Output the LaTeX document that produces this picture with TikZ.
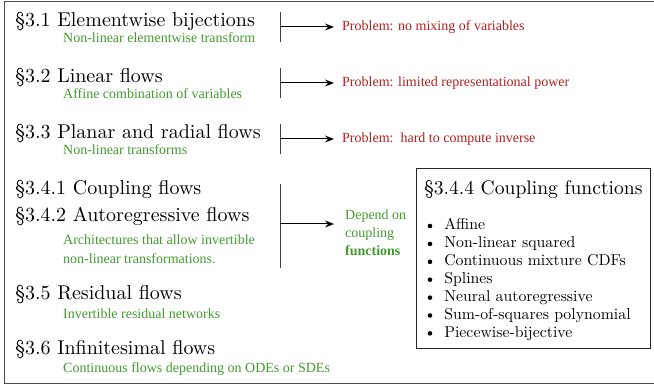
\documentclass[tikz,border=0pt]{standalone}
\usepackage{fontspec}
\usetikzlibrary{arrows.meta}
\newfontfamily\tnr{Liberation Serif}
\definecolor{grn}{RGB}{65,155,45}
\definecolor{rd}{RGB}{180,30,30}
\tikzset{
  x=1pt,y=-1pt,
  head/.style={anchor=base west,inner sep=0pt,font=\fontsize{10}{12}\selectfont,scale=2.0},
  sub/.style={anchor=base west,inner sep=0pt,font=\tnr\fontsize{14}{16}\selectfont,text=grn},
  prob/.style={anchor=base west,inner sep=0pt,font=\tnr\fontsize{14}{16}\selectfont,text=rd},
  bar/.style={line width=1pt,draw=black!75},
  arr/.style={line width=1pt,-{Stealth[length=9pt,width=7pt,inset=3pt]}},
  item/.style={anchor=base west,inner sep=0pt,font=\fontsize{10}{12}\selectfont,scale=1.58},
}
\begin{document}
\begin{tikzpicture}
\useasboundingbox (0,0) rectangle (654,387);
\draw[line width=1pt,draw=black!70] (4,2) rectangle (660,383.5);

\node[head] (h1) at (15,27) {\S3.1 Elementwise bijections};
\node[sub] (s1) at (63,43) {Non-linear elementwise transform};
\node[head] (h2) at (15,83) {\S3.2 Linear flows};
\node[sub] (s2) at (63,99) {Affine combination of variables};
\node[head] (h3) at (15,139) {\S3.3 Planar and radial flows};
\node[sub] (s3) at (63,155) {Non-linear transforms};
\node[head] (h41) at (15,195) {\S3.4.1 Coupling flows};
\node[head] (h42) at (15,222) {\S3.4.2 Autoregressive flows};
\node[sub] (s4a) at (63,245) {Architectures that allow invertible};
\node[sub] (s4b) at (63,264) {non-linear transformations.};
\node[head] (h5) at (15,300) {\S3.5 Residual flows};
\node[sub] (s5) at (63,319) {Invertible residual networks};
\node[head] (h6) at (15,355) {\S3.6 Infinitesimal flows};
\node[sub] (s6) at (63,373) {Continuous flows depending on ODEs or SDEs};

\node[prob] (p1) at (342,31) {Problem: no mixing of variables};
\node[prob] (p2) at (342,87) {Problem: limited representational power};
\node[prob] (p3) at (342,143) {Problem:\ \ hard to compute inverse};
\node[sub] (d1) at (345,220) {Depend on};
\node[sub] (d2) at (345,238) {coupling};
\node[sub] (d3) at (345,256) {\bfseries functions};

\coordinate (t1) at (280,12); \coordinate (b1) at (280,42); \coordinate (m1) at (280,27); \coordinate (e1) at (334,27);
\coordinate (t2) at (280,68); \coordinate (b2) at (280,98); \coordinate (m2) at (280,83); \coordinate (e2) at (334,83);
\coordinate (t3) at (280,124); \coordinate (b3) at (280,154); \coordinate (m3) at (280,139); \coordinate (e3) at (334,139);
\coordinate (t4) at (280,184); \coordinate (b4) at (280,268); \coordinate (m4) at (280,224); \coordinate (e4) at (334,224);
\foreach \i in {1,2,3,4}{
  \draw[bar] (t\i) -- (b\i);
  \draw[arr] (m\i) -- (e\i);
}

\draw[line width=0.9pt,draw=black!85] (416,168) rectangle (650,348);
\node[head,scale=0.98] (cf) at (424,195) {\S3.4.4 Coupling functions};
\foreach \t [count=\k] in {Affine,Non-linear squared,Continuous mixture CDFs,Splines,Neural autoregressive,Sum-of-squares polynomial,Piecewise-bijective}{
  \node[item] (i\k) at (444,{230+(\k-1)*17.9}) {\t};
  \fill (430,{226+(\k-1)*17.9}) circle (2.3);
}
\end{tikzpicture}
\end{document}
